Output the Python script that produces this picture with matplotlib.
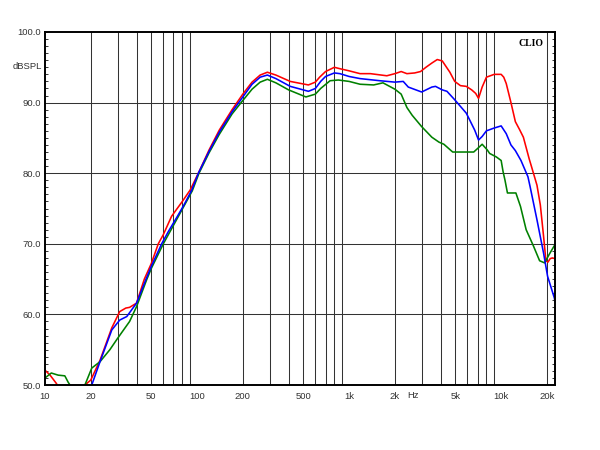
import matplotlib
matplotlib.use("Agg")
import matplotlib.pyplot as plt
import matplotlib.transforms as mtransforms
from matplotlib.ticker import FixedLocator, NullFormatter, MultipleLocator

# ---------------- data ----------------
red_f = [10, 10.8, 11.9, 13, 16, 17, 18.3, 20, 23, 27.5, 31, 34, 36, 40, 45, 50, 55.6, 60, 68, 80,
         90, 102, 120, 140, 170, 200, 230, 260, 290, 330, 410, 540, 600, 640, 700, 800, 870,
         1000, 1180, 1380, 1770, 2000, 2200, 2400, 2700, 2950, 3200, 3500, 3800, 4100, 4600,
         4950, 5400, 5900, 6400, 6800, 7100, 7500, 8000, 9000, 10000, 10400, 10800, 11600,
         12400, 13200, 14000, 15300, 15800, 17200, 18100, 19000, 19700, 20300, 21000, 21700, 22600]
red_db = [52.1, 51.4, 50.2, 48.5, 46, 48.5, 50.0, 50.7, 53.5, 58.1, 60.4, 60.9, 61.0, 61.6, 65.0,
          67.2, 70.0, 71.3, 73.9, 76.0, 77.6, 80.0, 83.3, 86.1, 89.0, 91.2, 92.9, 93.9, 94.3,
          93.9, 93.0, 92.5, 92.9, 93.6, 94.4, 95.0, 94.8, 94.5, 94.1, 94.1, 93.8, 94.1, 94.4,
          94.1, 94.2, 94.4, 95.0, 95.6, 96.1, 95.9, 94.3, 93.0, 92.4, 92.3, 91.8, 91.3, 90.6,
          92.2, 93.6, 94.0, 94.0, 93.6, 92.7, 90.0, 87.3, 86.2, 85.1, 82.0, 81.0, 78.3, 75.5,
          71.1, 67.6, 67.4, 67.9, 68.0, 67.9]

blue_f = [10, 18, 20.3, 23, 27.5, 31, 34.5, 40, 46, 50, 58.5, 65, 74.3, 82, 92.3, 102, 120, 140,
          170, 200, 230, 260, 290, 330, 410, 540, 600, 650, 700, 800, 870, 1000, 1180, 1590,
          2000, 2270, 2450, 3000, 3500, 3700, 4100, 4400, 4950, 5900, 6700, 7100, 7500, 8000,
          9000, 10000, 10800, 11600, 12400, 13500, 15000, 15500, 17200, 19000, 20200, 22400, 22600]
blue_db = [45, 45, 50.0, 53.3, 57.8, 59.2, 59.7, 61.6, 64.9, 66.8, 70.0, 71.8, 73.9, 75.5, 77.6,
           80.0, 83.1, 85.8, 88.7, 90.8, 92.6, 93.6, 93.9, 93.4, 92.3, 91.6, 92.0, 93.0, 93.7,
           94.2, 94.1, 93.7, 93.4, 93.1, 92.9, 93.0, 92.2, 91.5, 92.2, 92.3, 91.8, 91.6, 90.4,
           88.5, 86.1, 84.7, 85.2, 86.0, 86.4, 86.7, 85.6, 84.0, 83.2, 81.8, 79.5, 78.1, 73.4,
           68.7, 65.4, 62.3, 61.8]

green_f = [10, 11, 12.2, 13.5, 14.2, 14.6, 15.5, 17, 18.3, 20.3, 23, 26.7, 30, 36, 40, 46.6, 50,
           60, 75, 93, 103, 120, 140, 170, 200, 230, 260, 290, 330, 400, 520, 600, 650, 750,
           850, 1000, 1180, 1450, 1670, 2000, 2200, 2400, 2600, 3000, 3500, 3900, 4200, 4800,
           6600, 7000, 7500, 8100, 8400, 9300, 10000, 10300, 10600, 11000, 12500, 13400, 14600,
           16300, 17900, 19300, 20700, 22600]
green_db = [51.0, 51.7, 51.4, 51.3, 50.4, 50.0, 47, 47, 50.0, 52.4, 53.3, 55.0, 56.6, 59.0, 61.1,
            64.9, 66.5, 70.0, 73.8, 77.5, 80.0, 82.9, 85.5, 88.4, 90.3, 91.9, 92.9, 93.3, 92.8,
            91.8, 90.8, 91.2, 92.0, 93.1, 93.2, 93.0, 92.6, 92.5, 92.8, 91.9, 91.2, 89.3, 88.2,
            86.6, 85.1, 84.4, 84.1, 83.0, 83.0, 83.5, 84.1, 83.3, 82.8, 82.3, 81.8, 80.2, 79.0,
            77.2, 77.2, 75.3, 72.0, 69.7, 67.6, 67.3, 68.5, 69.9]

x_major = [10, 20, 50, 100, 200, 500, 1000, 2000, 5000, 10000, 20000]
x_labels = ["10", "20", "50", "100", "200", "500", "1k", "2k", "5k", "10k", "20k"]
y_major = [50, 60, 70, 80, 90, 100]
y_labels = ["50.0", "60.0", "70.0", "80.0", "90.0", "100.0"]

# ---------------- figure ----------------
plt.rcParams['font.family'] = ['Liberation Sans', 'DejaVu Sans']
fig = plt.figure(figsize=(6, 4.5), dpi=100)
ax = fig.add_axes([0.075, 0.1444, 0.85, 0.7845])

ax.set_xscale('log')
ax.set_xlim(10, 22600)
ax.set_ylim(50, 100)

# grid lines
minor_x = [m * d for d in (10, 100, 1000, 10000) for m in range(2, 10) if m * d <= 22600]
for f in minor_x:
    ax.axvline(f, color='#333333', lw=0.75, zorder=1)
for v in (60, 70, 80, 90):
    ax.axhline(v, color='#333333', lw=0.75, zorder=1)

ax.plot(red_f, red_db, color='#ff0000', lw=1.15, zorder=3, solid_joinstyle='round')
ax.plot(green_f, green_db, color='#008000', lw=1.15, zorder=3, solid_joinstyle='round')
ax.plot(blue_f, blue_db, color='#0000ff', lw=1.15, zorder=4, solid_joinstyle='round')

ax.xaxis.set_major_locator(FixedLocator(x_major))
ax.set_xticklabels(x_labels)
ax.xaxis.set_minor_locator(FixedLocator([]))
ax.xaxis.set_minor_formatter(NullFormatter())
ax.tick_params(axis='x', which='both', length=0, pad=5, labelsize=6.8, colors='#333333')

ax.set_yticks(y_major)
ax.set_yticklabels(y_labels)
ax.yaxis.set_minor_locator(MultipleLocator(1))
ax.tick_params(axis='y', which='both', direction='in', left=True, right=True,
               length=2.5, width=0.7, color='#333333', labelsize=6.8, pad=3, labelcolor='#333333')

for s in ax.spines.values():
    s.set_linewidth(1.4)
    s.set_color('black')
    s.set_zorder(5)

# extra texts
trans = mtransforms.blended_transform_factory(ax.transData, ax.transAxes)
ax.text(2650, -0.031, "Hz", transform=trans, ha='center', va='center', fontsize=6.8,
        color='#333333')
trans2 = mtransforms.blended_transform_factory(ax.transAxes, ax.transData)
ax.text(-0.0065, 95.1, "dBSPL", transform=trans2, ha='right', va='center', fontsize=6.8,
        color='#333333')
ax.text(0.977, 0.98, "CLIO", transform=ax.transAxes, ha='right', va='top', fontsize=7,
        fontweight='bold', family='Liberation Serif', color='black', zorder=6)

fig.savefig("out.png", dpi=100, facecolor='white')
